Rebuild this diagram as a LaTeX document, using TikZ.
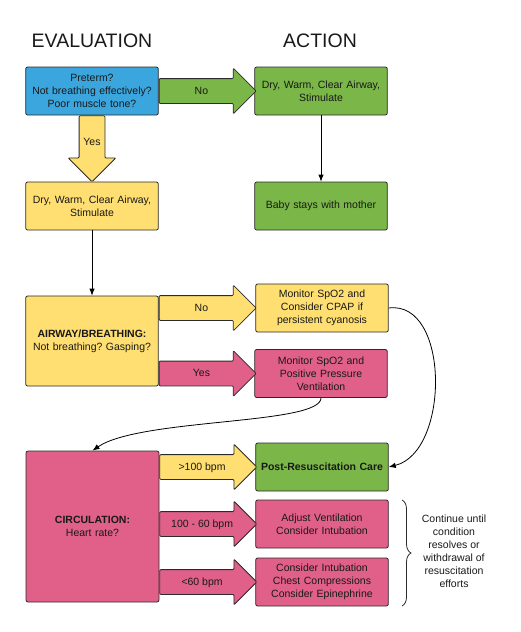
\documentclass[tikz,border=0pt]{standalone}
\usepackage{fontspec}
\setmainfont{Liberation Sans}
\frenchspacing
\usetikzlibrary{positioning,shapes,arrows.meta,calc,decorations.pathreplacing}
\definecolor{evblue}{HTML}{3AA6DD}
\definecolor{acgreen}{HTML}{7AB648}
\definecolor{acyellow}{HTML}{FFDF71}
\definecolor{acpink}{HTML}{E0608A}
\definecolor{edge}{HTML}{2B2B2B}

\begin{document}
\begin{tikzpicture}[x=1pt,y=1pt,
            cell/.style={rectangle,draw=edge,line width=0.8pt,rounded corners=2pt,minimum width=132pt,minimum height=48pt,text width=126pt,align=center,font=\fontsize{10.5}{12.8}\selectfont,text=black!90},
            flow/.style={single arrow,draw=edge,line width=0.8pt,rounded corners=1pt,single arrow tip angle=90,single arrow head extend=10.5pt,inner xsep=2pt,inner ysep=7pt,text height=8pt,text depth=2pt,minimum height=97pt,anchor=tail,font=\fontsize{10.5}{12.8}\selectfont,text=black!90},
            conn/.style={draw=black,line width=0.8pt,-{Latex[length=7pt,width=5.5pt]}},
            title/.style={font=\fontsize{19.5}{22}\selectfont,text=black!90}]

            \useasboundingbox (0,0) rectangle (520,-632);
            \node[title] (evaltitle) at (92,-41) {EVALUATION};
            \node[title] (acttitle) at (320,-41) {ACTION};

            % evaluation column
            \node[cell,fill=evblue] (preterm) at (92,-91) {Preterm?\\Not breathing effectively?\\Poor muscle tone?};
            \node[cell,fill=acyellow] (dry) at (92,-206) {Dry, Warm, Clear Airway,\\Stimulate};
            \node[cell,fill=acyellow,minimum height=90pt] (airway) at (92,-341) {\textbf{AIRWAY/BREATHING:}\\Not breathing? Gasping?};
            \node[cell,fill=acpink,minimum width=133pt,minimum height=151pt] (circ) at (92.5,-526.5) {\textbf{CIRCULATION:}\\Heart rate?};

            % action column
            \node[cell,fill=acgreen] (drygreen) at (321,-91) {Dry, Warm, Clear Airway,\\Stimulate};
            \node[cell,fill=acgreen] (mother) at (321,-206) {Baby stays with mother};
            \node[cell,fill=acyellow] (cpap) at (322,-308) {Monitor SpO2 and\\Consider CPAP if\\persistent cyanosis};
            \node[cell,fill=acpink] (ppv) at (321,-373.5) {Monitor SpO2 and\\Positive Pressure\\Ventilation};
            \node[cell,fill=acgreen] (post) at (322,-467) {\textbf{Post-Resuscitation Care}};
            \node[cell,fill=acpink] (adjust) at (322,-524) {Adjust Ventilation\\Consider Intubation};
            \node[cell,fill=acpink] (compress) at (322,-582) {Consider Intubation\\Chest Compressions\\Consider Epinephrine};

            % block arrows
            \node[flow,fill=acgreen] (no1) at (preterm.east) {No};
            \node[flow,fill=acyellow,shape border rotate=270,minimum height=66pt,text width=18pt,align=center,inner xsep=3.5pt,inner ysep=2pt,single arrow head extend=11pt] (yes1) at (preterm.south) {Yes};
            \node[flow,fill=acyellow] (no2) at (airway.east |- cpap.west) {No};
            \node[flow,fill=acpink] (yes2) at (airway.east |- ppv.west) {Yes};
            \node[flow,fill=acyellow] (fast) at (circ.east |- post.west) {>100 bpm};
            \node[flow,fill=acpink] (mid) at (circ.east |- adjust.west) {100 - 60 bpm};
            \node[flow,fill=acpink] (slow) at (circ.east |- compress.west) {<60 bpm};

            % connectors
            \draw[conn] (drygreen.south) -- (mother.north);
            \draw[conn] (dry.south) -- (airway.north);
            \draw[conn] (ppv.south) .. controls (321,-425) and (140,-418) .. (circ.north);
            \draw[conn] (cpap.east) .. controls (450,-300) and (450,-452) .. (post.east);

            \draw[decorate,decoration={brace,amplitude=9pt},line width=0.8pt,draw=edge] (402,-500) -- (402,-606);
            \node[align=center,font=\fontsize{10.5}{12.9}\selectfont,text=black!90] (note) at (454,-551) {Continue until\\condition\\resolves or\\withdrawal of\\resuscitation\\efforts};
\end{tikzpicture}
\end{document}
